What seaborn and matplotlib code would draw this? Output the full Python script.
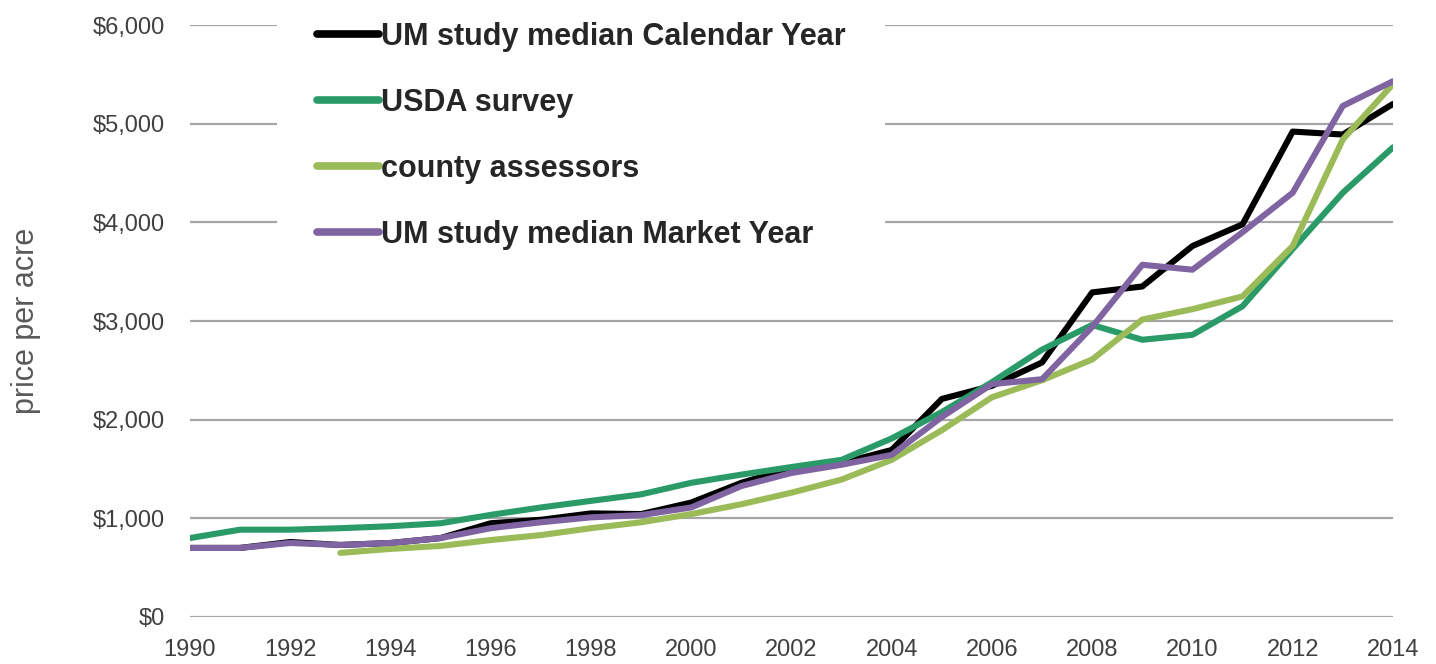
import numpy as np
import pandas as pd
import matplotlib
matplotlib.use("Agg")
import matplotlib.pyplot as plt
import seaborn as sns

years = list(range(1990, 2015))

um_calendar = [700, 700, 760, 730, 750, 800, 950, 985, 1050, 1043, 1160, 1360, 1510, 1560,
               1693, 2210, 2343, 2580, 3290, 3350, 3760, 3980, 4920, 4890, 5200]
usda = [800, 885, 885, 900, 920, 950, 1035, 1110, 1177, 1243, 1360, 1443, 1520, 1593,
        1810, 2077, 2380, 2710, 2960, 2810, 2860, 3150, 3730, 4300, 4760]
county = [np.nan, np.nan, np.nan, 650, 690, 720, 780, 830, 900, 960, 1043, 1143, 1260, 1393,
          1593, 1893, 2227, 2400, 2610, 3015, 3120, 3250, 3760, 4840, 5400]
um_market = [700, 700, 750, 730, 750, 800, 900, 960, 1010, 1033, 1110, 1327, 1460, 1543,
             1643, 2027, 2360, 2410, 2940, 3570, 3520, 3900, 4300, 5180, 5430]

series_names = ["UM study median Calendar Year", "USDA survey", "county assessors",
                "UM study median Market Year"]
colors = ["#000000", "#2a9b68", "#9bbb59", "#8064a2"]

df = pd.DataFrame({
    "year": years * 4,
    "price": um_calendar + usda + county + um_market,
    "series": sum([[n] * len(years) for n in series_names], []),
}).dropna()

sns.set_style("white")
plt.rcParams["font.family"] = ["Liberation Sans", "DejaVu Sans"]

fig = plt.figure(figsize=(14.36, 6.64), dpi=100)
ax = fig.add_axes([0.1323, 0.0708, 0.8377, 0.8915])

sns.lineplot(data=df, x="year", y="price", hue="series", hue_order=series_names,
             palette=colors, linewidth=4.4, ax=ax)

ax.set_xlim(1990, 2014)
ax.set_ylim(0, 6000)
ax.set_xticks(range(1990, 2015, 2))
ax.set_yticks(range(0, 6001, 1000))
ax.set_yticklabels(["${:,}".format(v) for v in range(0, 6001, 1000)])
ax.grid(axis="y", color="#a6a6a6", linewidth=1.6)
ax.set_axisbelow(True)
for s in ax.spines.values():
    s.set_visible(False)
ax.tick_params(axis="both", length=0, labelsize=17, colors="#404040")
ax.tick_params(axis="y", pad=18)
ax.tick_params(axis="x", pad=16)
ax.set_xlabel("")
ax.set_ylabel("price per acre", fontsize=22, color="#595959", labelpad=37)

# legend sits in a white box over the top gridlines
leg = ax.legend(loc="upper left", bbox_to_anchor=(277 / 1436, 1 + 18 / 664),
                bbox_transform=fig.transFigure, borderaxespad=0, frameon=True,
                prop={"weight": "bold", "size": 22}, handlelength=2.05,
                handletextpad=0.05, labelspacing=1.18, borderpad=1.3)
leg.get_frame().set_facecolor("white")
leg.get_frame().set_edgecolor("none")
leg.get_frame().set_alpha(1)
leg.get_frame().set_boxstyle("square", pad=0)
for line in leg.get_lines():
    line.set_linewidth(5.5)

fig.savefig("out.png", dpi=100)
